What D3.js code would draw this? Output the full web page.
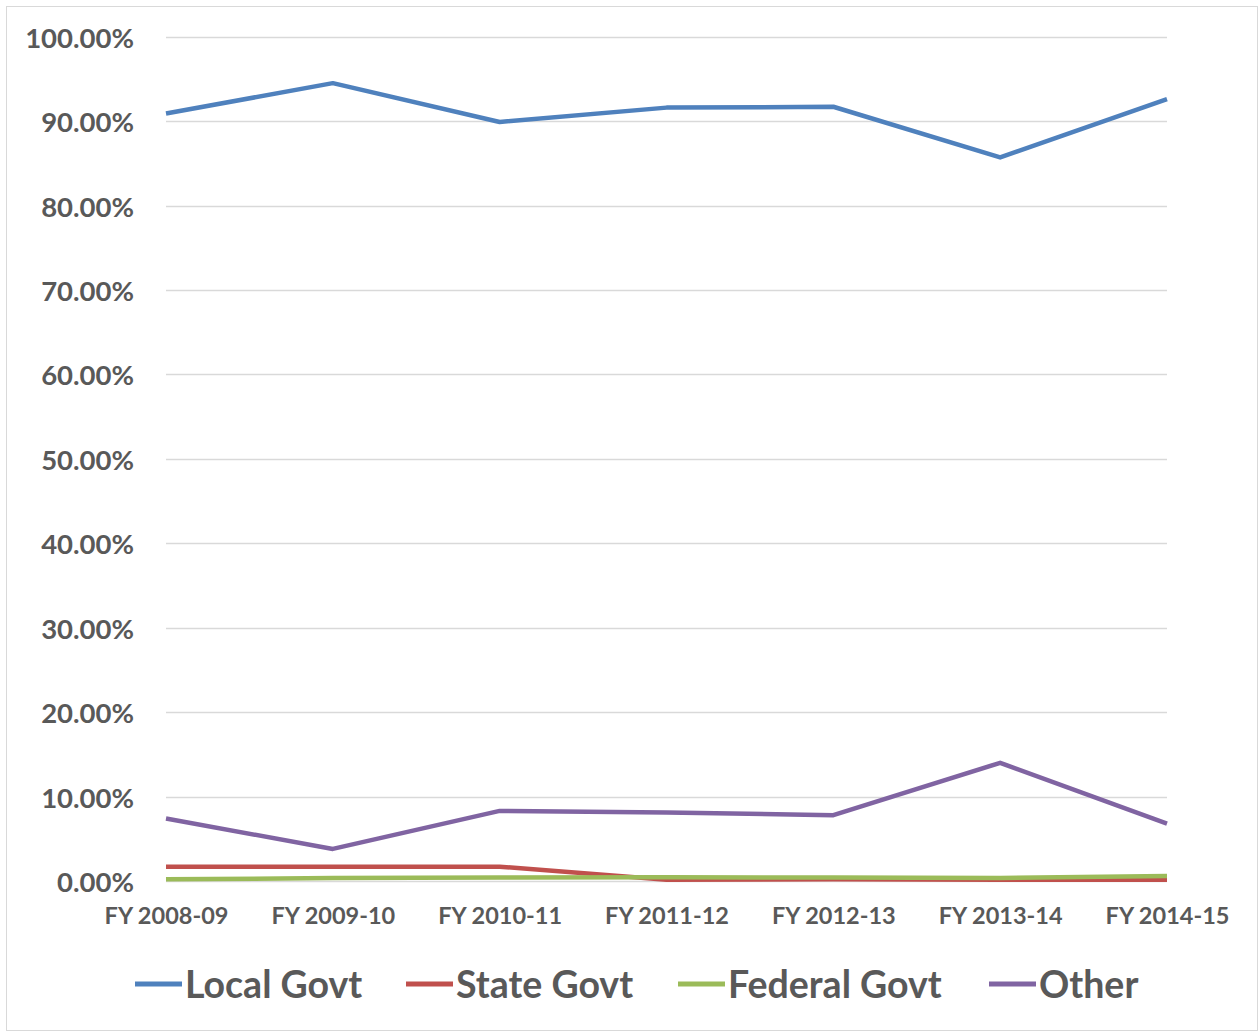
<!DOCTYPE html>
<html>
<head>
<meta charset="utf-8">
<script src="https://cdn.jsdelivr.net/npm/d3@7"></script>
<style>
  html, body { margin: 0; padding: 0; background: #fff; }
  svg { display: block; }
</style>
</head>
<body>
<svg id="chart" width="1259" height="1032"></svg>
<script>
const categories = ["FY 2008-09", "FY 2009-10", "FY 2010-11", "FY 2011-12", "FY 2012-13", "FY 2013-14", "FY 2014-15"];
const seriesNames = ["Local Govt", "State Govt", "Federal Govt", "Other"];
const seriesColors = ["#4F81BD", "#C0504D", "#9BBB59", "#8064A2"];
const localGovt   = [90.9, 94.5, 89.9, 91.6, 91.7, 85.7, 92.6];
const stateGovt   = [1.7, 1.7, 1.7, 0.15, 0.2, 0.15, 0.15];
const federalGovt = [0.2, 0.35, 0.4, 0.45, 0.4, 0.35, 0.6];
const other       = [7.4, 3.8, 8.3, 8.1, 7.8, 14.0, 6.8];
const yTicks = [0, 10, 20, 30, 40, 50, 60, 70, 80, 90, 100];
const yTickLabels = ["0.00%", "10.00%", "20.00%", "30.00%", "40.00%", "50.00%", "60.00%", "70.00%", "80.00%", "90.00%", "100.00%"];

(function () {
const seriesData = [localGovt, stateGovt, federalGovt, other];
const svg = d3.select("#chart");
const FONT = "Lato, 'Open Sans', 'DejaVu Sans', sans-serif";
const TXT = "#595959";

// chart border
svg.append("rect").attr("x", 6.5).attr("y", 6.5).attr("width", 1251).attr("height", 1024)
  .attr("fill", "none").attr("stroke", "#d9d9d9").attr("stroke-width", 1);

const pLeft = 166, pRight = 1167, pTop = 36.7, pBottom = 881;
const x = d3.scalePoint().domain(categories).range([pLeft, pRight]).padding(0);
const y = d3.scaleLinear().domain([0, 100]).range([pBottom, pTop]);

// gridlines
svg.append("g").selectAll("line").data(yTicks).join("line")
  .attr("x1", pLeft).attr("x2", pRight)
  .attr("y1", d => Math.round(y(d)) + 0.5).attr("y2", d => Math.round(y(d)) + 0.5)
  .attr("stroke", "#d9d9d9").attr("stroke-width", 1.5);

// y axis labels
const yAxis = d3.axisLeft(y).tickValues(yTicks).tickSize(0).tickPadding(0)
  .tickFormat((d, i) => yTickLabels[i]);
const gy = svg.append("g").attr("transform", `translate(134,0)`).call(yAxis);
gy.select(".domain").remove();
gy.selectAll("text").attr("font-family", FONT).attr("font-weight", "bold")
  .attr("font-size", 27.5).attr("fill", TXT).attr("dy", "0.38em");

// x axis labels
const xAxis = d3.axisBottom(x).tickSize(0).tickPadding(0);
const gx = svg.append("g").attr("transform", `translate(0,916)`).call(xAxis);
gx.select(".domain").remove();
gx.selectAll("text").attr("font-family", FONT).attr("font-weight", "bold")
  .attr("font-size", 23.5).attr("fill", TXT).attr("dy", "0.36em");

// lines
const line = d3.line().x((d, i) => x(categories[i])).y(d => y(d));
svg.append("g").selectAll("path").data(seriesData).join("path")
  .attr("d", d => line(d))
  .attr("fill", "none")
  .attr("stroke", (d, i) => seriesColors[i])
  .attr("stroke-width", 4.5)
  .attr("stroke-linejoin", "round");

// legend
const lineX = [135, 406, 678, 989];
const legend = svg.append("g").attr("transform", "translate(0,984)");
seriesNames.forEach((name, i) => {
  legend.append("line").attr("x1", lineX[i]).attr("x2", lineX[i] + 47)
    .attr("y1", 0).attr("y2", 0)
    .attr("stroke", seriesColors[i]).attr("stroke-width", 5);
  legend.append("text").attr("x", lineX[i] + 50).attr("y", 0).attr("dy", "0.36em")
    .attr("font-family", FONT).attr("font-size", 37.5).attr("fill", TXT)
    .attr("font-weight", "bold")
    .text(name);
});
})();
</script>
</body>
</html>
